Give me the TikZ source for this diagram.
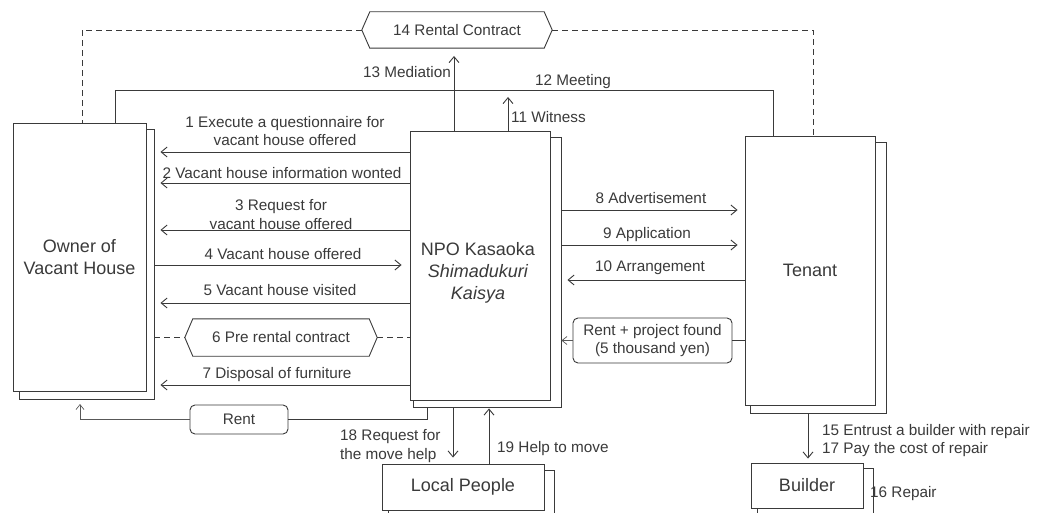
\documentclass[tikz,border=0pt]{standalone}
\usepackage{fontspec}
\setmainfont{Liberation Sans}
\usetikzlibrary{arrows.meta}
\definecolor{ink}{HTML}{3A3A3A}
\begin{document}
\begin{tikzpicture}[x=1pt,y=-1pt,
  line/.style={draw=ink, line width=0.9pt},
  backbox/.style={line, fill=white, inner sep=0pt},
  box/.style={line, fill=white, inner sep=0pt, text=ink, align=center, font=\fontsize{18}{22}\selectfont},
  boxtext/.style={text=ink, align=center, inner sep=0pt, font=\fontsize{18}{22}\selectfont},
  lbl/.style={text=ink, align=center, inner sep=0pt, font=\fontsize{15.3}{18.5}\selectfont},
  rbox/.style={line, fill=white, rounded corners=5pt, inner sep=0pt, text=ink, align=center, font=\fontsize{15.3}{18.5}\selectfont},
  arr/.style={line, -{Straight Barb[length=6pt,width=10pt]}},
  arrsmall/.style={draw=ink!85, line width=0.7pt, -{Straight Barb[length=5pt,width=8pt]}},
  dashline/.style={line, dash pattern=on 6pt off 4pt},
]
\useasboundingbox (0,0) rectangle (1039,513);
\fill[white] (0,0) rectangle (1039,513);

% back (shadow) boxes
\node[backbox, minimum width=135pt, minimum height=270pt] (ownerb) at (86.5,264) {};
\node[backbox, minimum width=148pt, minimum height=270pt] (npob) at (487,272) {};
\node[backbox, minimum width=136pt, minimum height=271pt] (tenantb) at (818,277.5) {};
\node[backbox, minimum width=166pt, minimum height=50pt] (localb) at (471,495) {};
\node[backbox, minimum width=116pt, minimum height=48pt] (builderb) at (815,492) {};

% front boxes
\node[box, minimum width=133pt, minimum height=268pt] (owner) at (79.5,257) {Owner of\\Vacant House};
\node[box, minimum width=140pt, minimum height=269pt] (npo) at (480,265.5) {};
\node[boxtext] (npotext) at (478,273) {NPO Kasaoka\\\textit{Shimadukuri}\\\textit{Kaisya}};
\node[box, minimum width=130pt, minimum height=269pt] (tenant) at (810,270.5) {Tenant};
\node[box, minimum width=162pt, minimum height=46pt] (local) at (463,487) {Local People};
\node[box, minimum width=112pt, minimum height=45pt] (builder) at (807,485.5) {Builder};

% hexagon 14
\node[lbl, minimum width=174pt, minimum height=36pt] (h14) at (457,30) {14 Rental Contract};
\coordinate (h14L) at ([xshift=-8pt]h14.west);
\coordinate (h14R) at ([xshift=8pt]h14.east);
\draw[line] (h14.north west) -- (h14L) -- (h14.south west) -- (h14.south east) -- (h14R) -- (h14.north east) -- cycle;

% hexagon 6
\node[lbl, minimum width=176pt, minimum height=37pt] (h6) at (281,337.5) {6 Pre rental contract};
\coordinate (h6L) at ([xshift=-8pt]h6.west);
\coordinate (h6R) at ([xshift=8pt]h6.east);
\draw[line] (h6.north west) -- (h6L) -- (h6.south west) -- (h6.south east) -- (h6R) -- (h6.north east) -- cycle;

% rounded boxes
\node[rbox, minimum width=98pt, minimum height=29pt] (rent) at (239,419.5) {Rent};
\node[rbox, minimum width=159pt, minimum height=45pt] (rentp) at (652.5,340.5) {Rent + project found\\(5 thousand yen)};

% helper coordinates
\coordinate (oR) at ([xshift=6pt]ownerb.east);
\coordinate (nL) at ([xshift=-8pt]npo.west);
\coordinate (nR) at ([xshift=6pt]npob.east);
\coordinate (tL) at ([xshift=-7pt]tenant.west);
\coordinate (mtgL) at (115,90);
\coordinate (medTip) at (454,56);
\coordinate (witTip) at (508,97);
\coordinate (rentTip) at (80,404);

% dashed rental contract links
\draw[dashline] (h14L) -| (owner.north -| 82,0);
\draw[dashline] (h14R) -| (tenant.north -| 813,0);
\draw[dashline] (ownerb.east |- h6L) -- (h6L);
\draw[dashline] (h6R) -- (npo.west |- h6R);

% meeting
\draw[line] (owner.north -| mtgL) -- (mtgL) -| (tenant.north -| 773,0);
\node[lbl] (l12) at (573,82) {12 Meeting};

% mediation, witness
\draw[arr] (npo.north -| medTip) -- (medTip);
\node[lbl, anchor=east] (l13) at (451,72) {13 Mediation};
\draw[arr] (npo.north -| witTip) -- (witTip);
\node[lbl, anchor=west] (l11) at (511,117) {11 Witness};

% owner <-> NPO
\draw[arr] (npo.west |- 0,152) -- (oR |- 0,152);
\node[lbl] (l1) at (285,131) {1 Execute a questionnaire for\\vacant house offered};
\draw[arr] (npo.west |- 0,183) -- (oR |- 0,183);
\node[lbl] (l2) at (282,173) {2 Vacant house information wonted};
\draw[arr] (npo.west |- 0,230) -- (oR |- 0,230);
\node[lbl] (l3) at (281,214.5) {3 Request for\\vacant house offered};
\draw[arr] (ownerb.east |- 0,265) -- (nL |- 0,265);
\node[lbl] (l4) at (283,254) {4 Vacant house offered};
\draw[arr] (npo.west |- 0,303) -- (oR |- 0,303);
\node[lbl] (l5) at (280,290) {5 Vacant house visited};
\draw[arr] (npo.west |- 0,385) -- (oR |- 0,385);
\node[lbl] (l7) at (277,375) {7 Disposal of furniture};

% rent
\draw[line] (npob.south -| 427,0) |- (rent.east);
\draw[arrsmall] (rent.west) -| (rentTip);

% NPO <-> tenant
\draw[arr] (npob.east |- 0,210) -- (tL |- 0,210);
\node[lbl] (l8) at (651,198) {8 Advertisement};
\draw[arr] (npob.east |- 0,245) -- (tL |- 0,245);
\node[lbl] (l9) at (647,235) {9 Application};
\draw[arr] (tenant.west |- 0,280) -- (nR |- 0,280);
\node[lbl] (l10) at (650,268) {10 Arrangement};
\draw[line] (tenant.west |- rentp.east) -- (rentp.east);
\draw[arrsmall] (rentp.west) -- (npob.east |- rentp.west);

% NPO <-> local people
\draw[arr, shorten >=6pt] (npob.south -| 453,0) -- (local.north -| 453,0);
\node[lbl, anchor=west, align=left] (l18) at (340,446) {18 Request for\\the move help};
\draw[arr, shorten >=1pt] (local.north -| 489,0) -- (npob.south -| 489,0);
\node[lbl, anchor=west] (l19) at (497,449) {19 Help to move};

% tenant -> builder
\draw[arr, shorten >=4pt] (tenantb.south -| 808,0) -- (builder.north -| 808,0);
\node[lbl, anchor=west, align=left] (l15) at (822,440.5) {15 Entrust a builder with repair\\17 Pay the cost of repair};
\node[lbl, anchor=west] (l16) at (870,494) {16 Repair};
\end{tikzpicture}
\end{document}
